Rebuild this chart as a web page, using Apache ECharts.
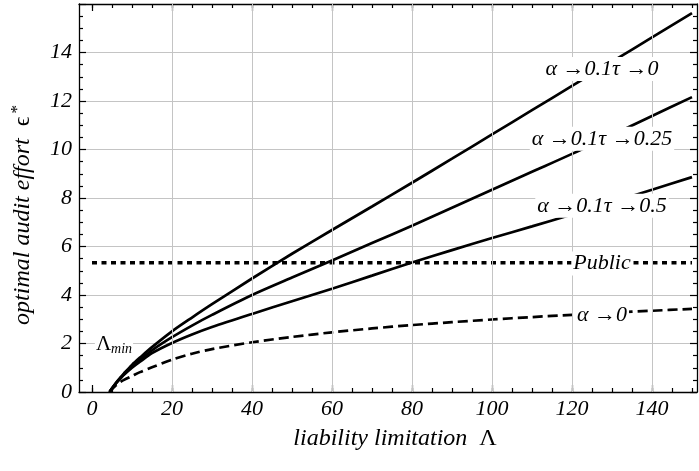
<!DOCTYPE html>
<html>
<head>
<meta charset="utf-8">
<script src="https://cdn.jsdelivr.net/npm/echarts@6/dist/echarts.min.js"></script>
<style>
  html, body { margin: 0; padding: 0; background: #fff; }
  #chart { width: 699px; height: 471px; }
</style>
</head>
<body>
<div id="chart"></div>
<script>
// liability limitation values (x) shared by all curves
var lambdaVals = [4.4, 5, 6, 7, 8, 10, 12, 15, 20, 25, 30, 40, 50, 60, 70, 80, 90, 100, 110, 120, 130, 140, 150];
// optimal audit effort, one array per curve
var tau0   = [0, 0.15, 0.38, 0.58, 0.77, 1.12, 1.42, 1.85, 2.5, 3.07, 3.62, 4.68, 5.7, 6.68, 7.65, 8.63, 9.62, 10.62, 11.62, 12.62, 13.62, 14.62, 15.62];
var tau025 = [0, 0.14, 0.36, 0.55, 0.73, 1.05, 1.32, 1.72, 2.26, 2.74, 3.18, 4.0, 4.72, 5.42, 6.14, 6.86, 7.6, 8.34, 9.08, 9.82, 10.6, 11.38, 12.16];
var tau05  = [0, 0.14, 0.36, 0.54, 0.71, 1.0, 1.25, 1.6, 2.02, 2.37, 2.68, 3.22, 3.74, 4.26, 4.8, 5.34, 5.85, 6.35, 6.83, 7.32, 7.83, 8.34, 8.86];
var alpha0 = [0, 0.12, 0.28, 0.4, 0.5, 0.66, 0.82, 1.02, 1.33, 1.58, 1.77, 2.05, 2.27, 2.46, 2.62, 2.76, 2.88, 2.99, 3.09, 3.18, 3.27, 3.35, 3.43];
var publicLevel = 5.33;
var publicRange = [0, 150];

// ticks and grid
var majorX = [0, 20, 40, 60, 80, 100, 120, 140];
var minorX = [0, 5, 10, 15, 20, 25, 30, 35, 40, 45, 50, 55, 60, 65, 70, 75, 80, 85, 90, 95, 100, 105, 110, 115, 120, 125, 130, 135, 140, 145, 150];
var gridX = [20, 40, 60, 80, 100, 120, 140];

// curve annotations
var noteTexts = ['α →0.1τ →0', 'α →0.1τ →0.25', 'α →0.1τ →0.5', 'Public', 'α →0'];
var noteX = [127.5, 127.5, 127.5, 127.5, 127.5];
var noteY = [13.32, 10.44, 7.68, 5.3, 3.16];
var lambdaMinPos = [5.5, 1.95];

var FONT = '"Liberation Serif", "DejaVu Serif", serif';

function pairs(ys) {
  return lambdaVals.map(function (x, i) { return [x, ys[i]]; });
}

function xAxisDef(pos, ticks, len, withLine, withLabel) {
  var a = {
    type: 'value', gridIndex: 0, position: pos, min: -3.25, max: 151.25,
    axisLine: { show: withLine, onZero: false, lineStyle: { color: '#000', width: 1.3 } },
    axisTick: { show: true, inside: true, length: len, customValues: ticks, lineStyle: { color: '#000', width: 1.2 } },
    axisLabel: { show: false },
    splitLine: { show: false }
  };
  if (withLabel) {
    a.axisLabel = {
      show: true, customValues: majorX, margin: 6, color: '#000',
      fontFamily: FONT, fontStyle: 'italic', fontSize: 22
    };
    a.name = 'liability limitation  {g|Λ}';
    a.nameLocation = 'middle';
    a.nameGap = 35;
    a.nameTextStyle = {
      color: '#000', fontFamily: FONT, fontStyle: 'italic', fontSize: 24,
      padding: [0, 0, 0, 14],
      rich: { g: { fontFamily: FONT, fontStyle: 'normal', fontSize: 24, color: '#000' } }
    };
  }
  return a;
}

function yAxisDef(pos, withLabel) {
  var a = {
    type: 'value', gridIndex: 0, position: pos, min: 0, max: 16, interval: 2,
    axisLine: { show: true, onZero: false, lineStyle: { color: '#000', width: 1.3 } },
    axisTick: { show: true, inside: true, length: 7, lineStyle: { color: '#000', width: 1.2 } },
    minorTick: { show: true, splitNumber: 4, length: 4, lineStyle: { color: '#000', width: 1.2 } },
    axisLabel: { show: false },
    splitLine: { show: false }
  };
  if (withLabel) {
    a.axisLabel = {
      show: true, showMaxLabel: false, margin: 7, color: '#000',
      fontFamily: FONT, fontStyle: 'italic', fontSize: 22
    };
    a.splitLine = { show: true, lineStyle: { color: '#c4c4c4', width: 1 } };
    a.name = '{t|optimal audit effort  }{e|ϵ}{s|*}';
    a.nameLocation = 'middle';
    a.nameRotate = 90;
    a.nameGap = 42;
    a.nameTextStyle = {
      color: '#000', fontFamily: FONT, fontSize: 24,
      padding: [0, 34, 0, 0],
      rich: {
        t: { fontFamily: FONT, fontStyle: 'italic', fontSize: 24, color: '#000' },
        e: { fontFamily: FONT, fontSize: 24, color: '#000' },
        s: { fontFamily: FONT, fontSize: 17, color: '#000', padding: [0, 0, 11, 3] }
      }
    };
  }
  return a;
}

var curveStyle = { color: '#000', width: 2.7 };
var hiddenItem = { color: 'rgba(0,0,0,0)', opacity: 1 };

function curve(name, ys, style) {
  return {
    name: name, type: 'line', data: pairs(ys), showSymbol: false,
    smooth: 0.3, lineStyle: style, z: 3
  };
}

var option = {
  animation: false,
  backgroundColor: '#fff',
  grid: { left: 79, right: 2, top: 4, bottom: 79 },
  xAxis: [
    xAxisDef('bottom', majorX, 7, true, true),
    xAxisDef('bottom', minorX, 4, false, false),
    xAxisDef('top', majorX, 7, true, false),
    xAxisDef('top', minorX, 4, false, false)
  ],
  yAxis: [
    yAxisDef('left', true),
    yAxisDef('right', false)
  ],
  series: [
    {
      name: 'grid', type: 'line', data: [], z: 1, silent: true,
      markLine: {
        silent: true, symbol: 'none', label: { show: false },
        lineStyle: { color: '#c4c4c4', width: 1, type: 'solid' },
        data: gridX.map(function (v) { return { xAxis: v }; })
      }
    },
    curve('tau0', tau0, curveStyle),
    curve('tau025', tau025, curveStyle),
    curve('tau05', tau05, curveStyle),
    curve('alpha0', alpha0, { color: '#000', width: 2.7, type: [10, 5] }),
    {
      name: 'public', type: 'line', showSymbol: false, z: 3,
      data: publicRange.map(function (x) { return [x, publicLevel]; }),
      lineStyle: { color: '#000', width: 3.6, type: [5, 4.5], cap: 'butt' }
    },
    {
      name: 'notes', type: 'scatter', z: 5, symbolSize: 1, silent: true,
      itemStyle: hiddenItem,
      label: {
        show: true, position: 'inside', formatter: '{b}', color: '#000',
        fontFamily: FONT, fontStyle: 'italic', fontSize: 22,
        backgroundColor: '#fff', padding: [1, 2]
      },
      data: noteTexts.map(function (t, i) { return { name: t, value: [noteX[i], noteY[i]] }; })
    },
    {
      name: 'lambdaMin', type: 'scatter', z: 5, symbolSize: 1, silent: true,
      itemStyle: hiddenItem,
      label: {
        show: true, position: 'inside', formatter: '{L|Λ}{m|min}',
        backgroundColor: '#fff', padding: [0, 1],
        rich: {
          L: { fontFamily: FONT, fontSize: 21, color: '#000' },
          m: { fontFamily: FONT, fontStyle: 'italic', fontSize: 14, color: '#000', padding: [9, 0, 0, 0] }
        }
      },
      data: [{ name: 'min', value: lambdaMinPos }]
    }
  ]
};

var myChart = echarts.init(document.getElementById('chart'), null, { renderer: 'canvas' });
myChart.setOption(option);
</script>
</body>
</html>
